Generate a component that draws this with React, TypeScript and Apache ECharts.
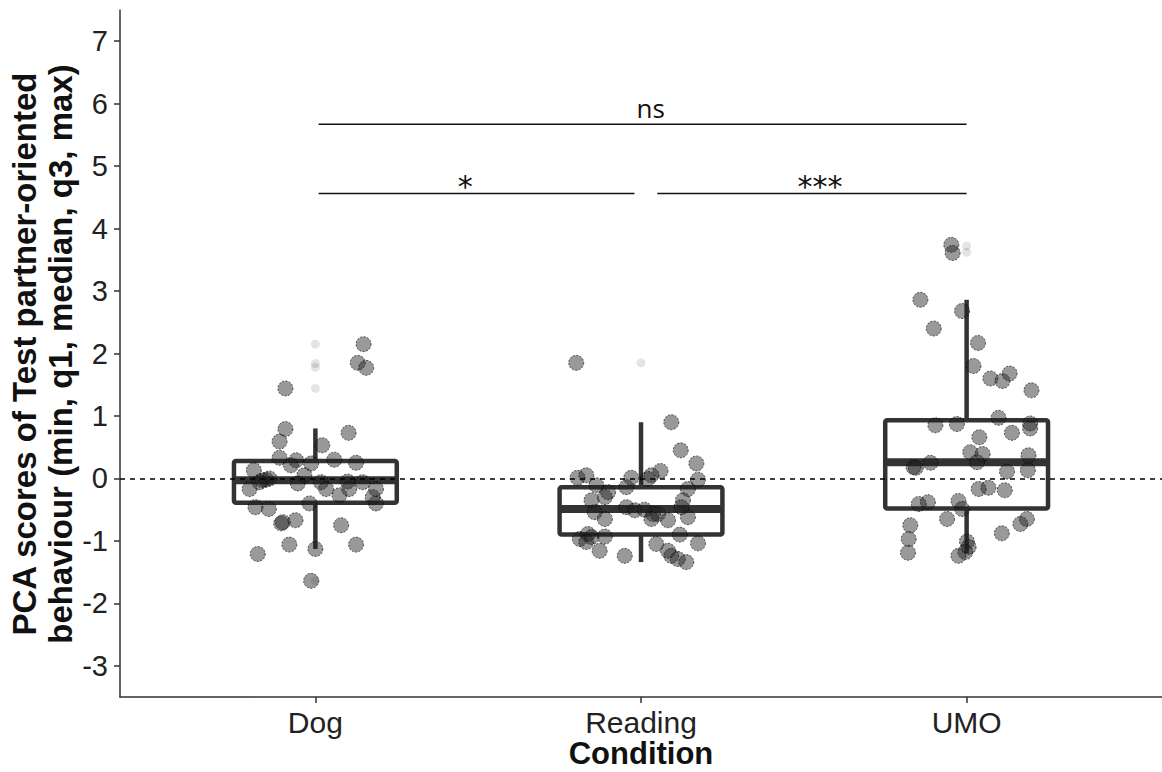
import React, { useEffect, useRef } from "react";
import * as echarts from "echarts";

const categories = ["Dog", "Reading", "UMO"];
const yTicks = [-3, -2, -1, 0, 1, 2, 3, 4, 5, 6, 7];

// jittered horizontal offsets (category units) and PCA scores
const dogOffsets = [0.148, 0.13, 0.156, -0.092, -0.092, -0.11, 0.102, 0.021, -0.11, -0.059, -0.075, -0.013, 0.058, 0.125, -0.189, -0.162, -0.151, -0.141, -0.172, -0.202, -0.034, -0.054, 0.017, 0.033, 0.074, 0.099, 0.104, 0.145, 0.186, 0.176, 0.186, -0.018, -0.184, -0.143, -0.105, -0.1, -0.061, 0.079, -0.08, 0.0, 0.125, -0.177, -0.013];
const dogValues = [2.15, 1.85, 1.77, 1.44, 0.79, 0.59, 0.73, 0.53, 0.33, 0.29, 0.21, 0.24, 0.3, 0.25, 0.13, -0.03, -0.02, 0.0, -0.06, -0.17, 0.05, -0.08, -0.06, -0.17, -0.27, -0.05, -0.17, -0.06, -0.17, -0.3, -0.4, -0.4, -0.46, -0.49, -0.72, -0.7, -0.67, -0.75, -1.06, -1.13, -1.06, -1.21, -1.64];

const readingOffsets = [-0.199, 0.093, 0.122, 0.17, 0.06, -0.168, -0.195, -0.03, 0.032, 0.021, 0.175, -0.137, -0.101, -0.045, 0.144, -0.152, -0.111, 0.129, -0.142, -0.111, -0.045, -0.019, 0.011, 0.037, 0.032, 0.052, 0.083, 0.124, 0.144, -0.188, -0.163, -0.152, -0.111, -0.168, -0.127, -0.05, 0.047, 0.083, 0.093, 0.113, 0.139, 0.119, 0.175];
const readingValues = [1.85, 0.9, 0.45, 0.24, 0.12, 0.05, 0.01, 0.01, 0.05, -0.01, -0.02, -0.11, -0.22, -0.14, -0.17, -0.35, -0.3, -0.35, -0.54, -0.65, -0.46, -0.51, -0.5, -0.57, -0.65, -0.57, -0.67, -0.46, -0.62, -0.97, -0.89, -0.94, -0.93, -1.02, -1.16, -1.24, -1.05, -1.16, -1.24, -1.29, -1.34, -0.9, -1.04];

const umoOffsets = [-0.047, -0.043, -0.142, -0.014, -0.101, 0.035, 0.021, 0.073, 0.11, 0.132, 0.199, 0.098, -0.096, -0.03, 0.195, 0.195, 0.139, 0.039, 0.011, 0.049, 0.032, -0.163, -0.156, -0.111, 0.19, 0.188, 0.124, 0.037, 0.067, 0.117, -0.147, -0.119, -0.025, -0.014, -0.06, -0.173, -0.178, -0.18, 0.001, 0.006, -0.004, -0.025, 0.108, 0.165, 0.185];
const umoValues = [3.74, 3.61, 2.86, 2.68, 2.4, 2.17, 1.8, 1.6, 1.56, 1.68, 1.41, 0.97, 0.85, 0.87, 0.88, 0.8, 0.73, 0.66, 0.42, 0.39, 0.26, 0.18, 0.17, 0.25, 0.37, 0.13, 0.11, -0.17, -0.15, -0.19, -0.41, -0.38, -0.36, -0.49, -0.65, -0.75, -0.97, -1.19, -1.01, -1.1, -1.18, -1.24, -0.88, -0.73, -0.65];

// boxplot stats: min, q1, median, q3, max
const dogBox = [-1.13, -0.39, -0.03, 0.28, 0.8];
const readingBox = [-1.34, -0.9, -0.49, -0.14, 0.9];
const umoBox = [-1.2, -0.48, 0.26, 0.93, 2.86];

const dogOutliers = [2.15, 1.84, 1.78, 1.44, -1.64];
const readingOutliers = [1.85];
const umoOutliers = [3.72, 3.62];

// significance brackets
const bracketStart = [1.01, 1.01, 2.05];
const bracketEnd = [3.0, 1.98, 3.0];
const bracketHeight = [5.67, 4.56, 4.56];
const bracketLabelX = [2.03, 1.46, 2.55];
const bracketLabel = ["ns", "*", "***"];

const groupOffsets = [dogOffsets, readingOffsets, umoOffsets];
const groupValues = [dogValues, readingValues, umoValues];
const groupBoxes = [dogBox, readingBox, umoBox];
const groupOutliers = [dogOutliers, readingOutliers, umoOutliers];

const FONT = '"Liberation Sans", Arial, sans-serif';

export default function App() {
  const ref = useRef<HTMLDivElement>(null);
  useEffect(() => {
    if (!ref.current) return;
    const chart = echarts.init(ref.current, null, { renderer: "svg" });

    const pointData: number[][] = [];
    groupOffsets.forEach((offs, gi) => {
      offs.forEach((o, i) => pointData.push([gi + 1 + o, groupValues[gi][i]]));
    });
    const outlierData: number[][] = [];
    groupOutliers.forEach((arr, gi) => arr.forEach((v) => outlierData.push([gi + 1, v])));
    const boxData = groupBoxes.map((b, gi) => [gi + 1, ...b]);
    const bracketData = bracketStart.map((s, i) => [s, bracketEnd[i], bracketHeight[i], bracketLabelX[i], i]);

    const stroke = "#333333";
    chart.setOption({
      animation: false,
      grid: { left: 120, right: 0, top: 10, bottom: 75, containLabel: false, outerBoundsMode: "none" },
      xAxis: {
        type: "value",
        min: 0.4,
        max: 3.6,
        splitLine: { show: false },
        axisLine: { onZero: false, lineStyle: { color: stroke, width: 1.5 } },
        axisTick: { customValues: [1, 2, 3], length: 6, lineStyle: { color: stroke, width: 1.5 } },
        axisLabel: {
          customValues: [1, 2, 3],
          formatter: (v: number) => categories[Math.round(v) - 1] ?? "",
          fontFamily: FONT,
          fontSize: 30,
          color: "#222",
          margin: 10,
        },
      },
      yAxis: {
        type: "value",
        min: -3.5,
        max: 7.5,
        splitLine: { show: false },
        axisLine: { onZero: false, lineStyle: { color: stroke, width: 1.5 } },
        axisTick: { customValues: yTicks, length: 6, lineStyle: { color: stroke, width: 1.5 } },
        axisLabel: {
          customValues: yTicks,
          fontFamily: FONT,
          fontSize: 29,
          color: "#222",
          margin: 12,
        },
      },
      graphic: [
        {
          type: "text",
          x: 42,
          y: 354,
          rotation: Math.PI / 2,
          style: {
            text: "PCA scores of Test partner-oriented\nbehaviour (min, q1, median, q3, max)",
            font: `bold 33px ${FONT}`,
            fill: "#111",
            align: "center",
            verticalAlign: "middle",
            lineHeight: 36,
          },
        },
        {
          type: "text",
          x: 641,
          y: 753,
          style: {
            text: "Condition",
            font: `bold 31px ${FONT}`,
            fill: "#111",
            align: "center",
            verticalAlign: "middle",
            lineHeight: 30,
          },
        },
      ],
      series: [
        {
          type: "custom",
          name: "boxes",
          data: boxData,
          z: 2,
          renderItem: (params: any, api: any) => {
            const x = api.value(0);
            const lo = api.value(1), q1 = api.value(2), med = api.value(3), q3 = api.value(4), hi = api.value(5);
            const hw = 0.25;
            const tl = api.coord([x - hw, q3]);
            const br = api.coord([x + hw, q1]);
            const cLo = api.coord([x, lo]);
            const cHi = api.coord([x, hi]);
            const cMedL = api.coord([x - hw, med]);
            const cMedR = api.coord([x + hw, med]);
            const ls = { stroke, lineWidth: 4.5, fill: "none" };
            return {
              type: "group",
              children: [
                { type: "line", shape: { x1: cHi[0], y1: cHi[1], x2: cHi[0], y2: tl[1] }, style: ls },
                { type: "line", shape: { x1: cLo[0], y1: cLo[1], x2: cLo[0], y2: br[1] }, style: ls },
                {
                  type: "rect",
                  shape: { x: tl[0], y: tl[1], width: br[0] - tl[0], height: br[1] - tl[1], r: 2 },
                  style: { stroke, lineWidth: 4.5, fill: "none", lineJoin: "round" },
                },
                {
                  type: "line",
                  shape: { x1: cMedL[0], y1: cMedL[1], x2: cMedR[0], y2: cMedR[1] },
                  style: { stroke, lineWidth: 8 },
                },
              ],
            };
          },
          markLine: {
            silent: true,
            symbol: "none",
            label: { show: false },
            lineStyle: { color: "#000", type: [5, 5], width: 1.5 },
            data: [{ yAxis: 0 }],
          },
        },
        {
          type: "scatter",
          name: "outliers",
          data: outlierData,
          symbolSize: 9,
          z: 3,
          itemStyle: { color: "rgba(0,0,0,0.13)", borderWidth: 0 },
        },
        {
          type: "scatter",
          name: "points",
          data: pointData,
          symbolSize: 15,
          z: 4,
          itemStyle: {
            color: "rgba(30,30,30,0.57)",
            borderColor: "rgba(0,0,0,0.75)",
            borderWidth: 1,
            borderType: [2, 1.5],
          },
        },
        {
          type: "custom",
          name: "brackets",
          data: bracketData,
          z: 5,
          renderItem: (params: any, api: any) => {
            const a = api.coord([api.value(0), api.value(2)]);
            const b = api.coord([api.value(1), api.value(2)]);
            const t = api.coord([api.value(3), api.value(2)]);
            const label = bracketLabel[api.value(4)];
            const isStar = label.indexOf("*") >= 0;
            return {
              type: "group",
              children: [
                { type: "line", shape: { x1: a[0], y1: a[1], x2: b[0], y2: b[1] }, style: { stroke: "#111", lineWidth: 1.5 } },
                {
                  type: "text",
                  x: t[0],
                  y: t[1] + (isStar ? 8 : -3),
                  style: {
                    text: label,
                    font: isStar ? `30px "DejaVu Sans", sans-serif` : `26px "Open Sans", "DejaVu Sans", sans-serif`,
                    fill: "#111",
                    align: "center",
                    verticalAlign: "bottom",
                  },
                },
              ],
            };
          },
        },
      ],
    });
    return () => chart.dispose();
  }, []);
  return <div ref={ref} style={{ position: "fixed", left: 0, top: 0, width: 1162, height: 772, background: "#fff" }} />;
}
